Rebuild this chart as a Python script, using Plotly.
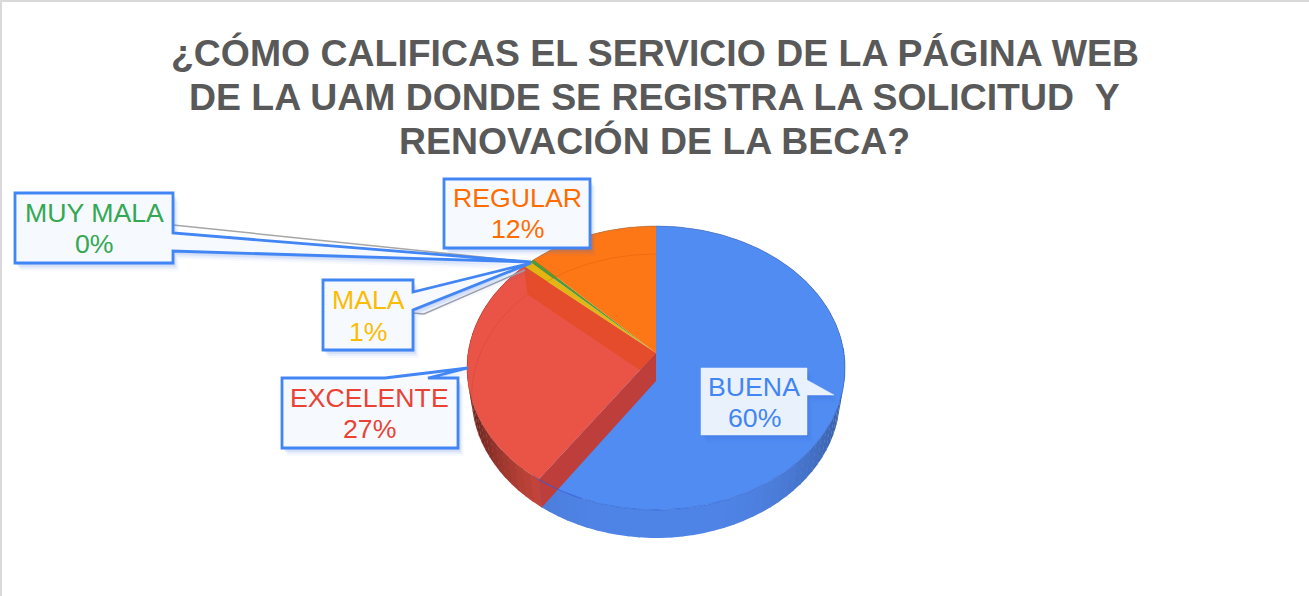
import math
import plotly.graph_objects as go

# ---- data ----
categories = ["BUENA", "EXCELENTE", "MALA", "MUY MALA", "REGULAR"]
values = [60.0, 27.0, 0.8, 0.4, 12.4]
title_lines = ["¿CÓMO CALIFICAS EL SERVICIO DE LA PÁGINA WEB",
               "DE LA UAM DONDE SE REGISTRA LA SOLICITUD\u00a0\u00a0Y",
               "RENOVACIÓN DE LA BECA?"]

# ---- styles ----
face = {"BUENA": "#508CF2", "EXCELENTE": "#E95447", "MALA": "#E3B512",
        "MUY MALA": "#4F9A3C", "REGULAR": "#FD7716"}
wall = {"BUENA": (80, 133, 232), "EXCELENTE": (222, 78, 66), "MALA": (200, 160, 20),
        "MUY MALA": (70, 140, 60), "REGULAR": (220, 100, 20)}
text_col = {"BUENA": "#4285F4", "EXCELENTE": "#EA4335", "MALA": "#FBBC04",
            "MUY MALA": "#34A853", "REGULAR": "#FF6D01"}
FONT = "Liberation Sans, Arial, sans-serif"

# perspective projection of the disc, in pixel-valued axes
CX, CY, A, B, P, DEPTH = 656, 353, 188, 140.4, 0.1056, 28


def proj(theta, z=0.0):
    t = math.radians(theta)
    u, v = math.sin(t), math.cos(t)
    d = 1 + P * v
    return CX + A * u / d * (1 - 0.025 * z), CY - B * v / d + DEPTH * z


def arc(a0, a1, z=0.0, step=2.0):
    n = max(2, int(abs(a1 - a0) / step) + 1)
    return [proj(a0 + (a1 - a0) * i / (n - 1), z) for i in range(n)]


def poly(pts, fill):
    return go.Scatter(x=[p[0] for p in pts] + [pts[0][0]], y=[p[1] for p in pts] + [pts[0][1]],
                      mode="lines", fill="toself", fillcolor=fill, line=dict(width=0),
                      hoverinfo="skip", showlegend=False)


def curve(pts, color, width=1):
    return go.Scatter(x=[p[0] for p in pts], y=[p[1] for p in pts], mode="lines",
                      line=dict(color=color, width=width), hoverinfo="skip", showlegend=False)


total = sum(values)
angles = [0.0]
for val in values:
    angles.append(angles[-1] + 360 * val / total)
spans = dict(zip(categories, zip(angles[:-1], angles[1:])))

fig = go.Figure()

# outer wall strips, darkening toward the sides
for cat in categories:
    a0, a1 = spans[cat]
    n = max(1, int((a1 - a0) / 3))
    for i in range(n):
        s0 = a0 + (a1 - a0) * i / n
        s1 = a0 + (a1 - a0) * (i + 1) / n + 0.3
        mid = math.radians((s0 + s1) / 2)
        k = 1 - (0.62 if cat == "EXCELENTE" else 0.32) * abs(math.sin(mid)) ** 3
        r, g, b = [int(c * k) for c in wall[cat]]
        fig.add_trace(poly(arc(s0, s1, 0, 1) + arc(s1, s0, 1, 1), f"rgb({r},{g},{b})"))

# top faces
for cat in categories:
    a0, a1 = spans[cat]
    fig.add_trace(poly([(CX, CY)] + arc(a0, a1, 0, 1), face[cat]))

# inner radial walls of the EXCELENTE slice, seen through the glassy top
a0, a1 = spans["EXCELENTE"]
fig.add_trace(poly([proj(a1), (CX, CY), (CX, CY + DEPTH), proj(a1, 1)], "rgba(225,70,20,0.55)"))
fig.add_trace(poly([proj(a0), (CX, CY), (CX, CY + DEPTH), proj(a0, 1)], "rgb(190,62,60)"))

# bottom rim seen through the top face, and the front top rim
a_reg0, a_reg1 = spans["REGULAR"]
fig.add_trace(curve(arc(a0 + 28, a1, 1, 1), "rgba(190,60,40,0.28)"))
fig.add_trace(curve(arc(a_reg0, a_reg1, 1, 1), "rgba(225,80,10,0.35)"))
fig.add_trace(curve(arc(88, a0 + 2, 0, 1), "rgba(40,90,200,0.55)"))
fig.add_trace(curve(arc(a0 - 14, a0, 0, 1), "rgba(60,90,220,0.7)"))
fig.add_trace(curve(arc(a0, a1, 0, 1), "rgba(170,60,50,0.35)"))
fig.add_trace(curve(arc(a_reg0, 360, 0, 1), "rgba(130,110,90,0.45)"))
fig.add_trace(curve(arc(0, 90, 0, 1), "rgba(70,100,170,0.5)"))


# ---- callouts: (category, outline points, text centre x, y of both lines) ----
def path(pts):
    return "M " + " L ".join(f"{x},{y}" for x, y in pts) + " Z"


callouts = [
    ("MUY MALA", [(15, 193), (173, 193), (173, 233), (531, 262), (173, 251), (173, 263), (15, 263)], 94, 213, 244),
    ("REGULAR", [(444, 179), (590, 179), (590, 248), (444, 248)], 517, 198, 229),
    ("MALA", [(323, 280), (413, 280), (413, 292), (531, 263), (413, 310), (413, 350), (323, 350)], 368, 300, 332),
    ("EXCELENTE", [(282, 378), (385, 378), (468, 368), (428, 378), (458, 378), (458, 448), (282, 448)], 369, 398, 429),
]
shapes = []
annotations = []


def add_callout(pts, fill, line, line_w):
    for off, op in ((8, 0.04), (6, 0.07), (4, 0.10), (2, 0.12)):
        shapes.append(dict(type="path", xref="x", yref="y", layer="above",
                           path=path([(x + off * 0.7, y + off) for x, y in pts]),
                           fillcolor=f"rgba(50,110,220,{op})", line=dict(width=0)))
    shapes.append(dict(type="path", xref="x", yref="y", layer="above", path=path(pts),
                       fillcolor=fill, line=dict(color=line, width=line_w)))


# thin grey shadow lines of the two long wedges
for seg in ([(173, 225), (530, 262)], [(413, 313), (424, 314), (525, 270)]):
    shapes.append(dict(type="path", xref="x", yref="y", layer="above",
                       path="M " + " L ".join(f"{x},{y}" for x, y in seg),
                       fillcolor="rgba(0,0,0,0)", line=dict(color="#A6A6A6", width=1.5)))

for cat, pts, tx, y1, y2 in callouts:
    add_callout(pts, "#F6FAFF", "#4285F4", 2.8)
add_callout([(701, 368), (807, 368), (807, 380), (834, 395), (807, 395), (807, 435), (701, 435)],
            "#E9F1FD", "#E9F1FD", 0.5)

pct = {c: f"{round(v / total * 100)}%" for c, v in zip(categories, values)}
label_pos = [(c[0], c[2], c[3], c[4]) for c in callouts] + [("BUENA", 754, 387, 418)]
for cat, tx, y1, y2 in label_pos:
    for txt, yy in ((cat, y1), (pct[cat], y2)):
        annotations.append(dict(x=tx, y=yy, xref="x", yref="y", text=txt, showarrow=False,
                                font=dict(family=FONT, size=26.7, color=text_col[cat]),
                                xanchor="center", yanchor="middle"))

for line, yy in zip(title_lines, (53, 97, 141)):
    annotations.append(dict(x=654.5, y=yy, xref="x", yref="y", text=line, showarrow=False,
                            font=dict(family=FONT, size=37.4, color="#595959", weight="bold"),
                            xanchor="center", yanchor="middle"))

# chart frame
shapes.append(dict(type="rect", xref="x", yref="y", x0=1, y0=1, x1=1330, y1=620, layer="below",
                   line=dict(color="#D9D9D9", width=2), fillcolor="white"))

fig.update_layout(
    width=1309, height=596, margin=dict(l=0, r=0, t=0, b=0, pad=0),
    paper_bgcolor="white", plot_bgcolor="white", showlegend=False,
    xaxis=dict(range=[0, 1309], visible=False, fixedrange=True),
    yaxis=dict(range=[596, 0], visible=False, fixedrange=True),
    shapes=shapes, annotations=annotations,
)
fig.write_html("out.html", config={"displayModeBar": False},
               post_script="document.body.style.margin='0';document.body.style.overflow='hidden';")
